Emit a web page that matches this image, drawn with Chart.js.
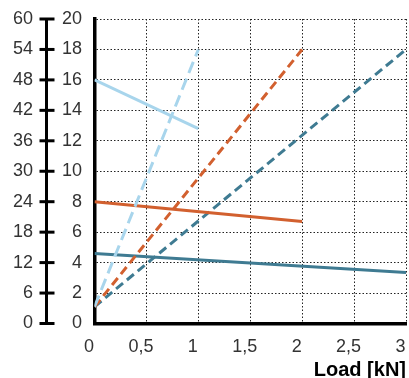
<!DOCTYPE html>
<html>
<head>
<meta charset="utf-8">
<script src="https://cdn.jsdelivr.net/npm/chart.js@4.4.1/dist/chart.umd.min.js"></script>
<style>
  html, body { margin: 0; padding: 0; background: #fff; }
  #wrap { width: 409px; height: 378px; }
</style>
</head>
<body>
<div id="wrap"><canvas id="loadChart" width="409" height="378"></canvas></div>
<script>
// Load values (kN) for each colour group
const loadLight = [0, 1];
const loadOrange = [0, 2];
const loadDark = [0, 3];

// Values on the inner (0-20) axis
const lightSolid = [16, 12.8];
const lightDashed = [1.1, 18];
const orangeSolid = [8.0, 6.7];
const orangeDashed = [1.1, 18];
const darkSolid = [4.6, 3.35];
const darkDashed = [1.1, 18];

// Tick settings
const xTicks = [0, 0.5, 1, 1.5, 2, 2.5, 3];
const innerMax = 20, innerStep = 2;
const outerMax = 60, outerStep = 6;

const lightBlue = '#a8d5ec';
const orange = '#d2602f';
const darkBlue = '#3f7b92';
const gridColor = '#222';
const fontFamily = '"Liberation Sans", Arial, Helvetica, sans-serif';

function toPoints(xs, ys) {
    return xs.map((x, i) => ({ x: x, y: ys[i] }));
}

function makeSet(xs, ys, color, dash) {
    return {
        data: toPoints(xs, ys),
        borderColor: color,
        backgroundColor: color,
        borderWidth: 3,
        borderDash: dash,
        pointRadius: 0,
        showLine: true,
        fill: false,
        yAxisID: 'y'
    };
}

// Draws the tick marks that cross the outer axis line
const crossTicks = {
    id: 'crossTicks',
    afterDraw(chart) {
        const s = chart.scales.y2;
        const ctx = chart.ctx;
        const bx = s.right;
        ctx.save();
        ctx.strokeStyle = '#000';
        ctx.lineWidth = 3;
        s.ticks.forEach(t => {
            const py = s.getPixelForValue(t.value);
            ctx.beginPath();
            ctx.moveTo(bx - 6.5, py);
            ctx.lineTo(bx + 8.5, py);
            ctx.stroke();
        });
        ctx.restore();
    }
};

const ctx = document.getElementById('loadChart').getContext('2d');
new Chart(ctx, {
    type: 'scatter',
    data: {
        datasets: [
            makeSet(loadLight, lightSolid, lightBlue, []),
            makeSet(loadLight, lightDashed, lightBlue, [12, 6]),
            makeSet(loadOrange, orangeSolid, orange, []),
            makeSet(loadOrange, orangeDashed, orange, [9, 5]),
            makeSet(loadDark, darkSolid, darkBlue, []),
            makeSet(loadDark, darkDashed, darkBlue, [9, 5])
        ]
    },
    options: {
        responsive: false,
        animation: false,
        layout: { padding: { left: 0, top: 19, right: 3, bottom: 0 } },
        plugins: {
            legend: { display: false },
            tooltip: { enabled: false }
        },
        scales: {
            x: {
                type: 'linear',
                min: 0,
                max: 3,
                afterBuildTicks: s => { s.ticks = xTicks.map(v => ({ value: v })); },
                afterFit: s => {
                    s.paddingLeft = 0;
                    s.paddingRight = 0;
                    s.height = 54.5;
                },
                ticks: {
                    color: '#333',
                    font: { family: fontFamily, size: 18 },
                    padding: 13,
                    labelOffset: -5.5,
                    callback: v => String(v).replace('.', ',')
                },
                grid: {
                    color: gridColor,
                    lineWidth: 1,
                    drawTicks: false
                },
                border: { color: '#000', width: 3.5, dash: [1.5, 2] },
                title: {
                    display: true,
                    text: 'Load [kN]',
                    align: 'end',
                    color: '#000',
                    font: { family: fontFamily, size: 20, weight: 'bold' },
                    padding: { top: 0, bottom: -4 }
                }
            },
            y: {
                position: 'left',
                weight: 0,
                min: 0,
                max: innerMax,
                ticks: {
                    stepSize: innerStep,
                    color: '#333',
                    font: { family: fontFamily, size: 18 },
                    padding: 12.5
                },
                afterFit: s => {
                    s.width = 48.5;
                    s.paddingTop = 0;
                    s.paddingBottom = 0;
                },
                grid: {
                    color: gridColor,
                    lineWidth: 1,
                    drawTicks: false
                },
                border: { color: '#000', width: 3.5, dash: [1.5, 2] }
            },
            y2: {
                position: 'left',
                weight: 1,
                min: 0,
                max: outerMax,
                ticks: {
                    stepSize: outerStep,
                    color: '#333',
                    font: { family: fontFamily, size: 18 },
                    padding: 13
                },
                afterFit: s => {
                    s.width = 46;
                    s.paddingTop = 0;
                    s.paddingBottom = 0;
                },
                grid: { drawOnChartArea: false, drawTicks: false },
                border: { color: '#000', width: 3 }
            }
        }
    },
    plugins: [crossTicks]
});
</script>
</body>
</html>
